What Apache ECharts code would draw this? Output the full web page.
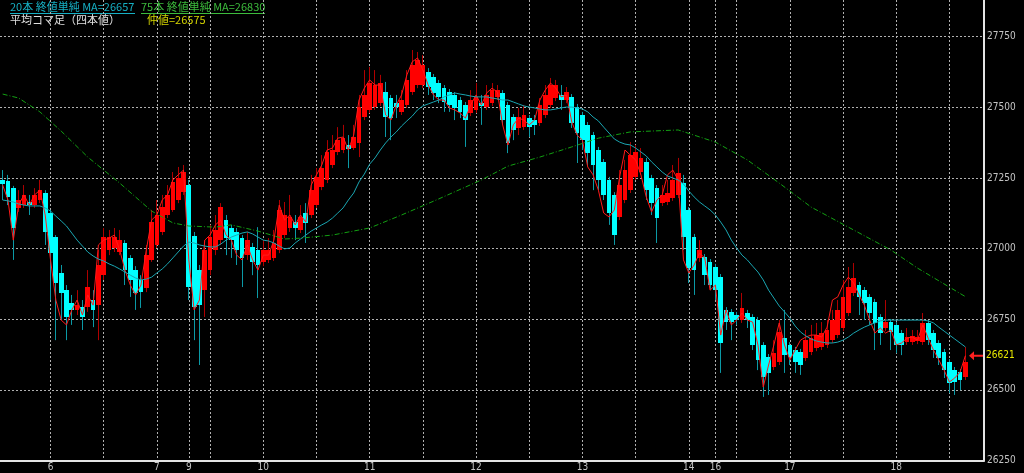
<!DOCTYPE html>
<html><head><meta charset="utf-8">
<script src="https://cdn.jsdelivr.net/npm/echarts@6/dist/echarts.min.js"></script>
<style>html,body{margin:0;padding:0;background:#000;}#chart{width:1024px;height:473px;}</style>
</head><body><div id="chart"></div>
<script>
// ---------- data ----------
const SLOT_COUNT = 185;
const categories = Array.from({length: SLOT_COUNT}, (_, i) => String(i));
const dayTickIndex = [9, 29, 35, 49, 69, 89, 109, 129, 134, 148, 168];
const dayTickLabel = ['6', '7', '9', '10', '11', '12', '13', '14', '16', '17', '18'];
const gridLineIndex = [9,19,29,35,39,49,59,69,79,89,99,109,119,129,134,138,148,158,168,178];
const priceTicks = [26250, 26500, 26750, 27000, 27250, 27500, 27750];
const priceMin = 26250, priceMax = 27880;
const legendTexts = ['20本 終値単純 MA=26657', '75本 終値単純 MA=26830', '平均コマ足（四本値）', '仲値=26575'];
const lastPrice = 26621;
const lastPriceSlot = '183';

const haOpen = [27243,27239,27214,27144,27154,27165,27154,27172,27197,27126,
27041,26914,26853,26807,26783,26793,26793,26818,26800,26906,
26995,27002,26988,27020,26967,26924,26889,26860,26960,27013,
27059,27119,27137,27172,27200,27225,27045,26924,26853,26924,
26995,27030,27101,27073,27059,27037,26977,27006,26995,26953,
26960,26967,26995,27048,27073,27094,27066,27126,27119,27154,
27218,27243,27296,27342,27349,27367,27356,27374,27466,27491,
27501,27515,27554,27533,27515,27484,27508,27554,27579,27579,
27625,27607,27586,27568,27554,27544,27526,27508,27480,27491,
27515,27501,27515,27537,27551,27508,27466,27427,27430,27462,
27455,27445,27473,27508,27533,27544,27526,27537,27501,27473,
27438,27402,27349,27307,27243,27190,27112,27172,27207,27254,
27271,27307,27250,27214,27161,27165,27179,27190,27232,27137,
27041,26967,26970,26953,26935,26899,26783,26776,26765,26747,
26772,26758,26747,26659,26616,26581,26598,26683,26659,26641,
26634,26613,26634,26648,26652,26659,26676,26694,26719,26772,
26843,26871,26853,26829,26811,26758,26719,26740,26730,26701,
26669,26669,26673,26669,26737,26701,26666,26634,26598,26570,
26563,26545];
const haClose = [27229,27183,27073,27172,27190,27154,27190,27207,27059,26984,
26878,26843,26758,26783,26800,26758,26864,26783,26942,27041,
27041,27041,27030,26924,26889,26843,26846,26977,27094,27119,
27147,27190,27236,27250,27271,26864,26793,26800,26995,27041,
27066,27147,27037,27030,26995,26967,27030,26953,26942,26995,
26995,27020,27137,27119,27112,27073,27112,27091,27207,27254,
27285,27342,27349,27384,27391,27353,27395,27501,27544,27586,
27579,27586,27466,27462,27501,27526,27597,27650,27668,27650,
27572,27551,27537,27519,27508,27498,27484,27455,27526,27537,
27505,27544,27561,27561,27455,27374,27420,27466,27473,27430,
27438,27508,27544,27579,27579,27526,27554,27445,27409,27384,
27338,27296,27243,27190,27126,27048,27225,27278,27331,27342,
27321,27207,27161,27108,27190,27197,27243,27268,27041,26931,
26924,26995,26906,26871,26853,26666,26740,26740,26747,26790,
26747,26659,26606,26545,26560,26630,26705,26623,26616,26598,
26588,26676,26683,26694,26701,26712,26747,26783,26829,26864,
26896,26829,26807,26772,26737,26701,26740,26705,26659,26659,
26687,26691,26687,26737,26676,26641,26613,26570,26524,26528,
26535,26598];
const haHigh = [27278,27261,27222,27207,27225,27190,27214,27243,27207,27137,
27048,26942,26871,26836,26853,26818,26924,26853,26995,27073,
27066,27073,27066,27030,26977,26938,26906,27013,27137,27172,
27190,27225,27271,27289,27296,27243,27059,26942,27030,27084,
27119,27161,27119,27084,27073,27048,27059,27020,27076,27030,
27037,27066,27172,27165,27190,27119,27154,27161,27261,27285,
27331,27384,27402,27430,27438,27402,27438,27544,27632,27643,
27632,27615,27590,27544,27544,27561,27632,27703,27696,27685,
27639,27618,27597,27579,27565,27554,27537,27519,27561,27586,
27544,27579,27586,27579,27561,27519,27476,27498,27508,27473,
27473,27533,27579,27604,27597,27579,27572,27547,27512,27484,
27448,27413,27360,27317,27254,27200,27278,27314,27377,27367,
27356,27321,27261,27225,27225,27243,27296,27321,27261,27147,
27052,27030,26981,26963,26946,26910,26793,26786,26776,26843,
26783,26768,26758,26669,26627,26676,26747,26783,26669,26652,
26645,26712,26730,26737,26740,26747,26783,26818,26889,26935,
26949,26882,26864,26839,26822,26768,26818,26751,26740,26712,
26719,26712,26712,26772,26747,26712,26676,26645,26609,26581,
26574,26652];
const haLow = [27172,27154,26960,27130,27144,27119,27144,27161,27013,26818,
26676,26747,26676,26730,26765,26712,26776,26722,26676,26889,
26977,26988,26977,26871,26829,26783,26790,26846,26953,27002,
27048,27108,27130,27161,27190,26818,26676,26588,26758,26906,
26977,27013,26977,26967,26942,26864,26960,26906,26825,26938,
26949,26956,26984,27037,27059,27030,27055,27020,27108,27144,
27207,27232,27285,27331,27338,27285,27349,27324,27455,27480,
27491,27505,27395,27384,27462,27473,27498,27544,27568,27568,
27544,27526,27515,27484,27484,27455,27462,27360,27469,27480,
27438,27491,27505,27526,27438,27338,27384,27402,27420,27395,
27402,27434,27462,27498,27522,27491,27515,27427,27303,27349,
27296,27207,27207,27172,27084,27013,27101,27161,27197,27243,
27261,27172,27119,27020,27151,27154,27169,27179,26995,26878,
26836,26953,26871,26853,26818,26560,26712,26676,26730,26737,
26719,26641,26570,26475,26482,26570,26588,26560,26588,26560,
26553,26602,26623,26637,26641,26648,26666,26683,26708,26761,
26832,26765,26747,26730,26641,26659,26708,26641,26630,26623,
26659,26659,26662,26659,26659,26613,26588,26542,26489,26482,
26499,26535];
const closeLine = [27225,27172,27030,27154,27190,27154,27190,27207,27119,26960,
26818,26747,26730,26783,26818,26765,26836,26800,27013,27030,
27037,27048,26995,26924,26871,26836,26871,26995,27101,27119,
27172,27190,27243,27261,27278,26960,26783,26818,27030,27048,
27084,27101,27048,27030,26977,26960,27013,26960,26924,26977,
26977,27030,27154,27101,27119,27084,27119,27094,27225,27261,
27296,27349,27356,27391,27395,27349,27402,27526,27568,27597,
27579,27579,27473,27455,27508,27544,27615,27661,27675,27632,
27579,27544,27526,27526,27498,27491,27480,27462,27508,27544,
27508,27551,27568,27554,27438,27367,27438,27462,27455,27438,
27455,27526,27561,27586,27568,27537,27544,27448,27402,27384,
27289,27261,27207,27126,27112,27137,27254,27349,27331,27314,
27261,27183,27130,27172,27190,27261,27278,27243,26960,26914,
26942,26984,26967,26853,26871,26694,26783,26730,26747,26772,
26747,26740,26659,26510,26588,26659,26737,26659,26606,26641,
26676,26687,26694,26694,26687,26722,26818,26829,26871,26899,
26878,26836,26800,26747,26701,26719,26701,26712,26659,26666,
26683,26687,26676,26730,26683,26641,26606,26570,26528,26542,
26563,26621];
const ma20 = [27172,27169,27165,27158,27154,27151,27151,27151,27144,27133,
27115,27098,27080,27055,27030,27009,26988,26974,26963,26956,
26946,26938,26928,26917,26906,26896,26889,26892,26899,26914,
26928,26946,26967,26988,27009,27023,27020,27013,27009,27006,
27006,27016,27030,27041,27048,27055,27059,27052,27041,27030,
27027,27020,27009,26999,27002,27020,27034,27048,27062,27073,
27084,27094,27108,27126,27144,27172,27197,27236,27264,27299,
27321,27349,27374,27395,27413,27434,27452,27469,27491,27505,
27512,27519,27526,27537,27544,27551,27547,27544,27540,27537,
27537,27537,27533,27530,27526,27526,27519,27512,27505,27501,
27498,27494,27491,27491,27494,27498,27501,27501,27498,27494,
27484,27466,27452,27430,27409,27388,27377,27370,27367,27356,
27342,27328,27307,27289,27271,27257,27250,27243,27229,27204,
27183,27165,27151,27137,27119,27094,27066,27030,27002,26977,
26960,26938,26917,26889,26853,26825,26797,26776,26754,26726,
26705,26691,26680,26673,26669,26666,26666,26669,26676,26687,
26701,26712,26722,26730,26737,26744,26747,26747,26747,26747,
26747,26747,26747,26747,26744,26737,26722,26708,26694,26680,
26666,26652];
// 75-bar MA, read at selected bars: [bar, value]
const ma75 = [[0,27547],[3,27533],[7,27484],[11,27416],[16,27324],[22,27232],[28,27133],
[32,27091],[35,27080],[40,27076],[43,27084],[48,27062],[53,27034],[56,27037],[62,27048],
[69,27073],[75,27119],[82,27176],[90,27243],[95,27292],[101,27324],[107,27360],[112,27391],
[118,27413],[127,27420],[134,27377],[140,27314],[146,27232],[152,27147],[159,27076],
[167,26995],[172,26931],[181,26830]];

// ---------- chart ----------
const NARROW = "'Liberation Sans Narrow','DejaVu Sans Condensed','Liberation Sans',sans-serif";
const JP = "'Noto Sans CJK JP','Noto Sans',sans-serif";
const labelMap = {};
dayTickIndex.forEach((idx, k) => { labelMap[idx] = dayTickLabel[k]; });
const gridSet = new Set(gridLineIndex);
const tickSet = new Set(priceTicks);
const candleData = haOpen.map((o, i) => [i, o, haClose[i], haLow[i], haHigh[i]]);

const chart = echarts.init(document.getElementById('chart'), null, {renderer: 'canvas', devicePixelRatio: 1});

const option = {
  backgroundColor: '#000000',
  animation: false,
  grid: {left: 0, right: 40, top: 0, bottom: 12.5, containLabel: false},
  xAxis: {
    type: 'category', data: categories, boundaryGap: true,
    axisLine: {show: true, onZero: false, lineStyle: {color: '#e4e4e4', width: 2}},
    axisTick: {show: false},
    axisLabel: {
      interval: (i) => labelMap[i] !== undefined,
      formatter: (v, i) => labelMap[i] || '',
      color: '#c4c4c4', fontSize: 10, fontFamily: NARROW, margin: 2
    },
    splitLine: {show: true, alignWithLabel: true, interval: (i) => gridSet.has(i),
      lineStyle: {color: '#b0b0b0', width: 1, type: [2, 2]}}
  },
  yAxis: {
    type: 'value', position: 'right', min: priceMin, max: priceMax,
    axisLine: {show: true, onZero: false, lineStyle: {color: '#e4e4e4', width: 2}},
    axisTick: {show: false, customValues: priceTicks},
    axisLabel: {customValues: priceTicks, color: '#c4c4c4', fontSize: 10, fontFamily: NARROW, margin: 3,
      verticalAlign: 'middle', padding: [0, 0, 5, 0],
      formatter: (v) => tickSet.has(v) ? String(v) : ''},
    splitLine: {show: true, lineStyle: {color: '#b0b0b0', width: 1, type: [2, 2]}}
  },
  graphic: [
    {type: 'text', left: 10, top: 1, style: {text: legendTexts[0], fill: '#16b0c4', fontSize: 11, fontFamily: JP}},
    {type: 'rect', left: 10, top: 13, shape: {width: 125, height: 1}, style: {fill: '#16b0c4'}},
    {type: 'text', left: 141, top: 1, style: {text: legendTexts[1], fill: '#3cbc3c', fontSize: 11, fontFamily: JP}},
    {type: 'rect', left: 141, top: 13, shape: {width: 124, height: 1}, style: {fill: '#3cbc3c'}},
    {type: 'text', left: 10, top: 14, style: {text: legendTexts[2], fill: '#e0e0e0', fontSize: 11, fontFamily: JP}},
    {type: 'text', left: 147, top: 14, style: {text: legendTexts[3], fill: '#d4d400', fontSize: 11, fontFamily: JP}}
  ],
  series: [
    {
      type: 'custom', name: 'HA', data: candleData,
      encode: {x: 0, y: [1, 2, 3, 4]},
      renderItem: function (params, api) {
        const idx = api.value(0);
        const o = api.value(1), c = api.value(2), l = api.value(3), h = api.value(4);
        const pO = api.coord([idx, o]);
        const pC = api.coord([idx, c]);
        const pL = api.coord([idx, l]);
        const pH = api.coord([idx, h]);
        const bw = api.size([1, 0])[0];
        const bull = c >= o;
        const x0 = Math.round(pO[0] - bw / 2 + 0.3);
        const x1 = Math.round(pO[0] + bw / 2 - 0.3);
        const cx = Math.floor(pO[0]);
        const top = Math.round(Math.min(pO[1], pC[1]));
        const bot = Math.round(Math.max(pO[1], pC[1]));
        return {
          type: 'group', children: [
            {type: 'line', shape: {x1: cx + 0.5, y1: pH[1], x2: cx + 0.5, y2: pL[1]},
              style: {stroke: bull ? '#b00000' : '#0b9aa6', lineWidth: 1}},
            {type: 'rect', shape: {x: x0, y: top, width: Math.max(1, x1 - x0), height: Math.max(1, bot - top)},
              style: {fill: bull ? '#ff0000' : '#00ffff'}}
          ]
        };
      },
      z: 2
    },
    {
      type: 'line', name: 'close', data: closeLine, symbol: 'none',
      lineStyle: {color: '#ff1a1a', width: 1}, z: 3,
      markPoint: {
        symbol: 'path://M0,4.5 L5,0 L5,3.5 L14,3.5 L14,5.5 L5,5.5 L5,9 Z',
        symbolSize: [14, 9],
        itemStyle: {color: '#ff2020'},
        data: [{coord: [lastPriceSlot, lastPrice], value: lastPrice}],
        label: {show: true, position: 'right', distance: 2, formatter: String(lastPrice),
          color: '#e8e800', fontSize: 10, fontFamily: NARROW, backgroundColor: '#000000', padding: [1, 1]}
      }
    },
    {
      type: 'line', name: 'MA20', data: ma20, symbol: 'none',
      lineStyle: {color: '#1aa6b2', width: 1}, z: 4
    },
    {
      type: 'line', name: 'MA75', data: ma75, symbol: 'none',
      lineStyle: {color: '#12a012', width: 1, type: [5, 2, 1, 2]}, z: 4
    }
  ]
};
chart.setOption(option);
</script></body></html>
